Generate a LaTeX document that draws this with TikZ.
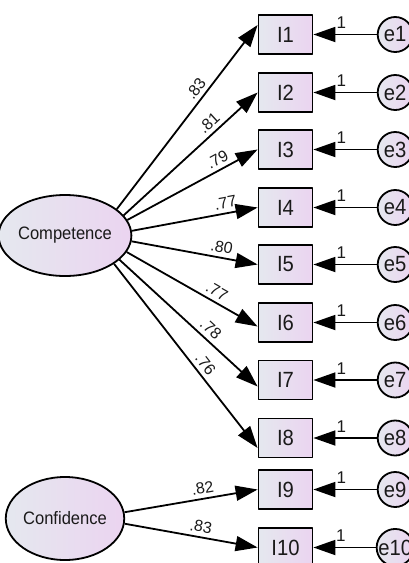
\documentclass[tikz,border=0pt]{standalone}
\usepackage{fontspec}
\setmainfont{Liberation Sans}[FakeStretch=0.92]
\newfontfamily\coeffont{Liberation Sans}
\usetikzlibrary{shapes.geometric,arrows.meta,calc}
\definecolor{gLeft}{HTML}{E5E8EF}
\definecolor{gRight}{HTML}{EBD4F0}
\definecolor{ink}{HTML}{1A1A1A}

\begin{document}
\begin{tikzpicture}[x=1pt,y=1pt,>={Triangle[length=22pt,width=15pt]},line width=1.8pt,line join=round,text=ink,
	latent/.style={ellipse,draw,left color=gLeft,right color=gRight,minimum width=106pt,minimum height=81pt,inner sep=0pt,font=\fontsize{18}{21}\selectfont},
	item/.style={rectangle,draw,left color=gLeft,right color=gRight,minimum width=54pt,minimum height=39pt,inner sep=0pt,font=\fontsize{22}{26}\selectfont},
	err/.style={circle,draw,left color=gLeft,right color=gRight,minimum size=35pt,inner sep=0pt,font=\fontsize{22}{26}\selectfont},
	coef/.style={sloped,above=4pt,inner sep=0pt,font=\coeffont\fontsize{16}{18}\selectfont},
	fix/.style={above=5pt,inner sep=0pt,pos=0.56,font=\coeffont\fontsize{17}{19}\selectfont}]
	\useasboundingbox (0,0) rectangle (408,-563);
	
	\node[latent] (Comp) at (65,-235.5) {Competence};
	\node[latent,minimum height=83pt] (Conf) at (65,-518.5) {Confidence};
	
	\foreach \i/\y in {1/34.5,2/92.5,3/149.5,4/207.5,5/264.5,6/322.5,7/380,8/438,9/489.5,10/547.5}{
		\node[item] (I\i) at (285.5,-\y) {I\i};
		\node[err] (e\i) at (395.2,-\y) {e\i};
		\draw[->] (e\i) -- node[fix]{1} (I\i);
	}
	
	\foreach \i/\ang/\dy/\p/\v in {1/27/9.5/0.62/.83,2/19/0/0.69/.81,3/14/0/0.73/.79,4/4/0/0.76/.77,
		5/-5/0/0.70/.80,6/-15/-4/0.65/.77,7/-24/-6.5/0.61/.78,8/-30/-10/0.58/.76}
		\draw[->] (Comp.\ang) -- node[coef,pos=\p]{\v} ($(I\i.west)+(0,\dy)$);
	
	\draw[->] (Conf.6) -- node[coef,pos=0.60]{.82} (I9.west);
	\draw[->] (Conf.-5) -- node[coef,pos=0.56]{.83} (I10.west);
\end{tikzpicture}
\end{document}
